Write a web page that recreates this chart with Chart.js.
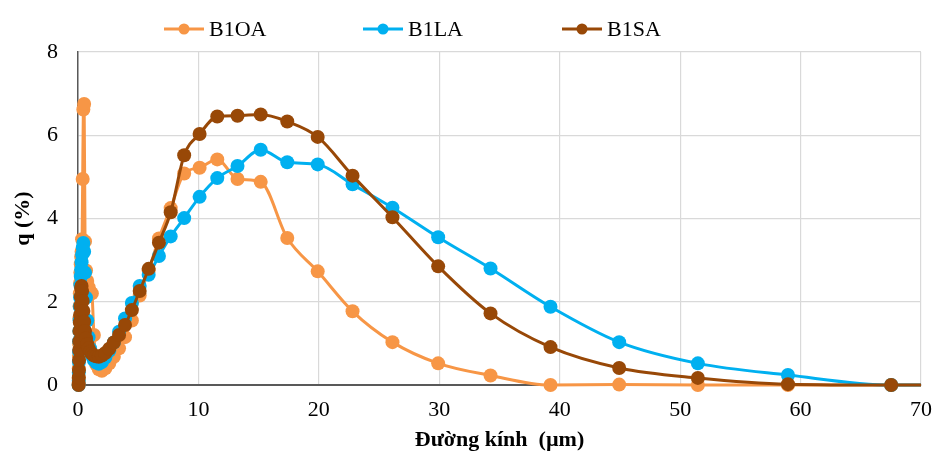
<!DOCTYPE html>
<html>
<head>
<meta charset="utf-8">
<script src="https://cdn.jsdelivr.net/npm/chart.js@4"></script>
<style>
  html, body { margin: 0; padding: 0; background: #fff; }
  #wrap { width: 934px; height: 452px; }
</style>
</head>
<body>
<div id="wrap"><canvas id="psd" width="934" height="452"></canvas></div>
<script>
// particle size distribution, q (%) vs diameter (µm)
const diameters = [
  0.051, 0.058, 0.067, 0.076, 0.087, 0.100, 0.115, 0.131, 0.150, 0.172,
  0.197, 0.226, 0.259, 0.296, 0.339, 0.389, 0.445, 0.510, 0.584, 0.669,
  0.766, 0.877, 1.005, 1.151, 1.318, 1.510, 1.729, 1.981, 2.269, 2.599,
  2.976, 3.409, 3.905, 4.472, 5.122, 5.867, 6.720, 7.697, 8.816, 10.097,
  11.565, 13.246, 15.172, 17.377, 19.904, 22.797, 26.111, 29.907, 34.255, 39.234,
  44.938, 51.471, 58.953, 67.523, 77.339
];

const b1oa = [
  0.00, 0.15, 0.40, 0.70, 1.00, 1.30, 1.60, 1.90, 2.20, 2.45,
  2.70, 2.90, 3.08, 3.20, 3.50, 4.95, 6.62, 6.75, 3.45, 2.75,
  2.50, 2.35, 2.25, 2.20, 1.20, 0.50, 0.38, 0.34, 0.40, 0.52,
  0.68, 0.88, 1.15, 1.55, 2.15, 2.75, 3.52, 4.25, 5.08, 5.22,
  5.42, 4.95, 4.88, 3.53, 2.73, 1.77, 1.03, 0.52, 0.23, 0.00,
  0.01, 0.00, 0.00, 0.00, 0.00
];

const b1la = [
  0.00, 0.10, 0.30, 0.55, 0.80, 1.05, 1.30, 1.55, 1.88, 2.10,
  2.40, 2.62, 2.77, 2.95, 3.13, 3.30, 3.41, 3.20, 2.70, 2.10,
  1.55, 1.15, 0.88, 0.70, 0.60, 0.54, 0.51, 0.55, 0.66, 0.82,
  1.02, 1.28, 1.60, 1.97, 2.38, 2.65, 3.10, 3.57, 4.01, 4.52,
  4.97, 5.26, 5.65, 5.35, 5.30, 4.82, 4.26, 3.55, 2.80, 1.88,
  1.03, 0.52, 0.24, 0.00, 0.00
];

const b1sa = [
  0.00, 0.05, 0.18, 0.36, 0.60, 0.84, 1.05, 1.30, 1.50, 1.68,
  1.90, 2.12, 2.33, 2.38, 2.25, 2.02, 1.78, 1.52, 1.30, 1.12,
  0.98, 0.88, 0.80, 0.75, 0.71, 0.69, 0.68, 0.71, 0.77, 0.87,
  1.02, 1.20, 1.44, 1.80, 2.26, 2.79, 3.42, 4.15, 5.52, 6.03,
  6.45, 6.47, 6.50, 6.33, 5.96, 5.03, 4.03, 2.85, 1.72, 0.91,
  0.41, 0.17, 0.02, 0.00, 0.00
];

const seriesNames = ['B1OA', 'B1LA', 'B1SA'];
const seriesValues = [b1oa, b1la, b1sa];
const seriesColors = ['#F79646', '#00B0F0', '#984807'];

const xTitle = 'Đường kính  (µm)';
const yTitle = 'q (%)';

const SERIF = "'Liberation Serif', 'Times New Roman', serif";
Chart.defaults.font.family = SERIF;
Chart.defaults.color = '#000';

const datasets = seriesNames.map((name, s) => ({
  label: name,
  data: diameters.map((d, i) => ({ x: d, y: seriesValues[s][i] })),
  borderColor: seriesColors[s],
  backgroundColor: seriesColors[s],
  pointBackgroundColor: seriesColors[s],
  pointBorderColor: seriesColors[s],
  borderWidth: 3,
  pointRadius: 7,
  pointBorderWidth: 0,
  showLine: true,
  cubicInterpolationMode: 'monotone',
  order: seriesNames.length - s,
  clip: { left: 20, top: 20, bottom: 20, right: 0 }
}));

// legend row: short line with a dot, then the name
const lineLegend = {
  id: 'lineLegend',
  afterDraw(chart) {
    const ctx = chart.ctx;
    const y = 29, startX = 164, step = 199, lineW = 40;
    ctx.save();
    ctx.font = '22px ' + SERIF;
    ctx.textBaseline = 'middle';
    chart.data.datasets.forEach((ds, i) => {
      const x = startX + i * step;
      ctx.strokeStyle = ds.borderColor;
      ctx.lineWidth = 3;
      ctx.beginPath();
      ctx.moveTo(x, y);
      ctx.lineTo(x + lineW, y);
      ctx.stroke();
      ctx.fillStyle = ds.borderColor;
      ctx.beginPath();
      ctx.arc(x + lineW / 2, y, 5.5, 0, Math.PI * 2);
      ctx.fill();
      ctx.fillStyle = '#000';
      ctx.fillText(ds.label, x + lineW + 5, y + 1);
    });
    ctx.restore();
  }
};

new Chart(document.getElementById('psd'), {
  type: 'scatter',
  data: { datasets },
  options: {
    responsive: false,
    animation: false,
    layout: { padding: { top: 52, right: 13, left: 0, bottom: 0 } },
    plugins: { legend: { display: false }, tooltip: { enabled: false } },
    scales: {
      x: {
        type: 'linear', min: 0, max: 70,
        afterFit: s => { s.height = 67; s.paddingRight = 0; s.paddingLeft = 0; },
        ticks: { stepSize: 10, padding: 12, font: { size: 22 } },
        grid: { color: '#d9d9d9', lineWidth: 1.2, drawTicks: false },
        border: { color: '#595959', width: 2 },
        title: { display: true, text: xTitle, font: { size: 22, weight: 'bold' }, padding: { bottom: -2, top: 0 } }
      },
      y: {
        min: 0, max: 8,
        afterFit: s => { s.width = 78; s.paddingTop = 0; s.paddingBottom = 0; },
        ticks: { stepSize: 2, padding: 20, font: { size: 22 } },
        grid: { color: '#d9d9d9', lineWidth: 1.2, drawTicks: false },
        border: { color: '#595959', width: 1.5 },
        title: { display: true, text: yTitle, font: { size: 22, weight: 'bold' }, padding: { top: 10, bottom: 0 } }
      }
    }
  },
  plugins: [lineLegend]
});
</script>
</body>
</html>
